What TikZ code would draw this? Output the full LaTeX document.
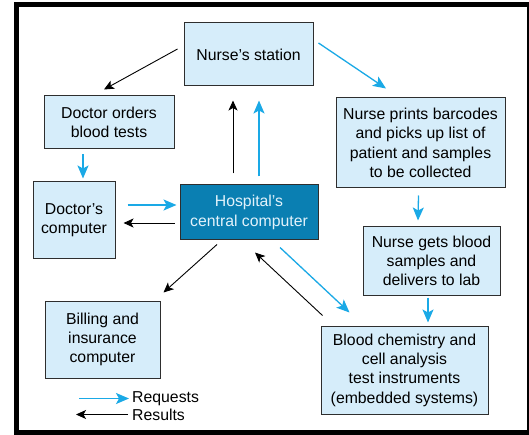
\documentclass[tikz,border=0pt]{standalone}
\usepackage{fontspec}
\setmainfont{Liberation Sans}
\usetikzlibrary{arrows.meta,calc}
\definecolor{boxfill}{HTML}{D6EDFA}
\definecolor{boxline}{HTML}{2E2E2E}
\definecolor{reqblue}{HTML}{1AA9E6}
\definecolor{ccfill}{HTML}{0A7FB2}
\definecolor{cctext}{HTML}{E2F2FB}
\begin{document}
\begin{tikzpicture}[x=1pt,y=-1pt,
  box/.style={draw=boxline,line width=1pt,fill=boxfill,inner sep=0pt,align=center,
    font=\fontsize{15.8}{19.3}\selectfont},
  req/.style={draw=reqblue,line width=1.3pt,-{Stealth[length=13pt,width=11pt,inset=3pt]}},
  res/.style={draw=black,line width=0.9pt,-{Stealth[length=10pt,width=9pt,inset=2.5pt]}},
  lbl/.style={anchor=west,inner sep=0pt,font=\fontsize{15.8}{19.3}\selectfont}]
\useasboundingbox (0,0) rectangle (529,435);
% frame
\fill[black] (14,2) rectangle (531,436);
\fill[white] (19,7) rectangle (527,430);
% boxes
\node[box,minimum width=129pt,minimum height=63pt] (ns) at (248.5,54.5) {Nurse’s station};
\node[box,minimum width=130pt,minimum height=53pt] (dob) at (109,122.5) {Doctor orders\\blood tests};
\node[box,minimum width=169pt,minimum height=90pt] (np) at (420.5,143) {Nurse prints barcodes\\and picks up list of\\patient and samples\\to be collected};
\node[box,minimum width=82pt,minimum height=76pt] (dc) at (74,220) {Doctor’s\\computer};
\node[box,fill=ccfill,text=cctext,minimum width=138pt,minimum height=55pt] (cc) at (249,212.5) {Hospital’s\\central computer};
\node[box,minimum width=137pt,minimum height=68pt] (ng) at (431.5,261) {Nurse gets blood\\samples and\\delivers to lab};
\node[box,minimum width=115pt,minimum height=77pt] (bi) at (102.5,339.5) {Billing and\\insurance\\computer};
\node[box,minimum width=167pt,minimum height=88pt] (bc) at (404.5,370) {Blood chemistry and\\cell analysis\\test instruments\\(embedded systems)};
% connectors
\draw[res] ($(ns.west)+(-6,-5.5)$) -- ($(dob.north)+(-5,-6)$);
\draw[req] ($(ns.east)+(5,-11.5)$) -- ($(np.north)+(-34.5,-9)$);
\draw[req] ($(dob.south)+(-26,5)$) -- ($(dc.north)+(9,-3)$);
\draw[res] ($(cc.north)+(-16,-11)$) -- ($(ns.south)+(-15.5,14)$);
\draw[req] ($(cc.north)+(10,-8)$) -- ($(ns.south)+(10.5,14)$);
\draw[req] ($(dc.east)+(12,-15)$) -- ($(cc.west)+(-3,-7.5)$);
\draw[res] ($(cc.west)+(-5,10.5)$) -- ($(dc.east)+(8,3)$);
\draw[req] ($(np.south)+(-2,7)$) -- ($(ng.north)+(-13.5,-6)$);
\draw[req] ($(ng.south)+(-3.5,2)$) -- ($(bc.north)+(23.5,-3)$);
\draw[res] ($(cc.south)+(-32,4)$) -- ($(bi.north east)+(3,-8)$);
\draw[req] ($(cc.south)+(31,7)$) -- ($(bc.north west)+(29,-13)$);
\draw[res] ($(bc.north west)+(2,-10)$) -- ($(cc.south)+(6,12)$);
% legend
\node[lbl] (lreq) at (132,398.5) {Requests};
\node[lbl] (lres) at (132,415) {Results};
\coordinate (reqstart) at (79,398.5);
\coordinate (resend) at (76,414.5);
\draw[req] (reqstart) -- ($(lreq.west)+(-3,0)$);
\draw[res] ($(lres.west)+(-4,-0.5)$) -- (resend);
\end{tikzpicture}
\end{document}
